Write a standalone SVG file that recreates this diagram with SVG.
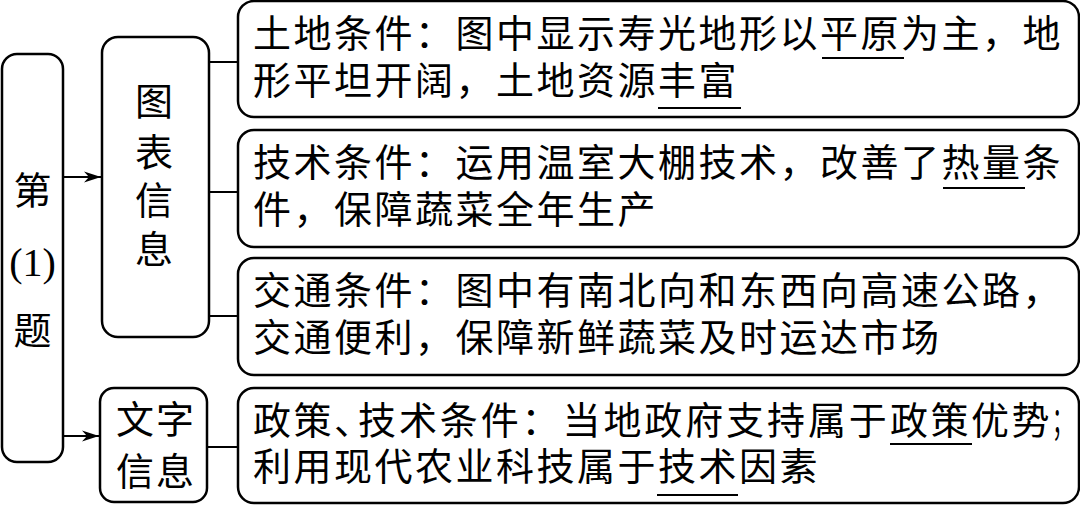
<svg xmlns="http://www.w3.org/2000/svg" width="1080" height="506" viewBox="0 0 1080 506">
<style>
.box{fill:#fff;stroke:#000;stroke-width:2.5}
.t{font-family:"Liberation Serif","Noto Sans CJK SC",serif;font-size:38px;fill:#000;letter-spacing:2.5px}
.v{font-family:"Liberation Serif","Noto Sans CJK SC",serif;font-size:38px;fill:#000;text-anchor:middle}
.ln{stroke:#000;stroke-width:2;fill:none}
.ul{stroke:#000;stroke-width:2}
</style>
<defs>
<marker id="ah" viewBox="-18 -6 18 12" markerWidth="18" markerHeight="12" refX="0" refY="0" orient="auto" markerUnits="userSpaceOnUse">
<path d="M0,0 L-17,-5.5 L-12,0 L-17,5.5 Z" fill="#000"/>
</marker>
</defs>
<rect width="1080" height="506" fill="#fff"/>
<g id="connectors">
<line class="ln" x1="63" y1="177" x2="101" y2="177" marker-end="url(#ah)"/>
<line class="ln" x1="63" y1="436" x2="99" y2="436" marker-end="url(#ah)"/>
<line class="ln" x1="209" y1="62" x2="238" y2="62"/>
<line class="ln" x1="209" y1="192" x2="238" y2="192"/>
<line class="ln" x1="209" y1="316" x2="238" y2="316"/>
<line class="ln" x1="207" y1="447" x2="238" y2="447"/>
</g>
<g id="node-q1">
<rect class="box" x="2" y="54" width="61" height="408" rx="15"/>
<text class="v" x="32.5" y="204">第</text>
<text class="v" x="32.5" y="276" style="font-size:40px">(1)</text>
<text class="v" x="32.5" y="344">题</text>
</g>
<g id="node-chart">
<rect class="box" x="102" y="37" width="107" height="300" rx="16"/>
<text class="v" x="154" y="115">图</text>
<text class="v" x="154" y="166">表</text>
<text class="v" x="154" y="214">信</text>
<text class="v" x="154" y="263">息</text>
</g>
<g id="node-text">
<rect class="box" x="100" y="388" width="107" height="114" rx="14"/>
<text class="t" x="116" y="433" style="letter-spacing:2px">文字</text>
<text class="t" x="116" y="485" style="letter-spacing:2px">信息</text>
</g>
<g id="node-land">
<rect class="box" x="238" y="1" width="841" height="116" rx="16"/>
<text class="t" x="253" y="47">土地条件：图中显示寿光地形以平原为主，地</text>
<text class="t" x="253" y="94">形平坦开阔，土地资源丰富</text>
<line class="ul" x1="822" y1="58" x2="904" y2="58"/>
<line class="ul" x1="658" y1="108" x2="741" y2="108"/>
</g>
<g id="node-tech">
<rect class="box" x="238" y="130" width="841" height="117" rx="16"/>
<text class="t" x="253" y="176">技术条件：运用温室大棚技术，改善了热量条</text>
<text class="t" x="253" y="223">件，保障蔬菜全年生产</text>
<line class="ul" x1="943" y1="188" x2="1025" y2="188"/>
</g>
<g id="node-traffic">
<rect class="box" x="238" y="258" width="841" height="117" rx="16"/>
<text class="t" x="253" y="304">交通条件：图中有南北向和东西向高速公路，</text>
<text class="t" x="253" y="351">交通便利，保障新鲜蔬菜及时运达市场</text>
</g>
<g id="node-policy">
<rect class="box" x="238" y="388" width="841" height="115" rx="16"/>
<text class="t" y="434"><tspan x="253">政策</tspan><tspan style="letter-spacing:-17px">、</tspan><tspan x="358" style="letter-spacing:2.9px">技术条件：当地政府支持属于</tspan><tspan x="890">政策优势</tspan></text>
<text class="t" transform="translate(1052,434) scale(0.55,1)" style="letter-spacing:0">；</text>
<text class="t" x="253" y="480">利用现代农业科技属于技术因素</text>
<line class="ul" x1="890" y1="444" x2="972" y2="444"/>
<line class="ul" x1="657" y1="495" x2="738" y2="495"/>
</g>
</svg>
